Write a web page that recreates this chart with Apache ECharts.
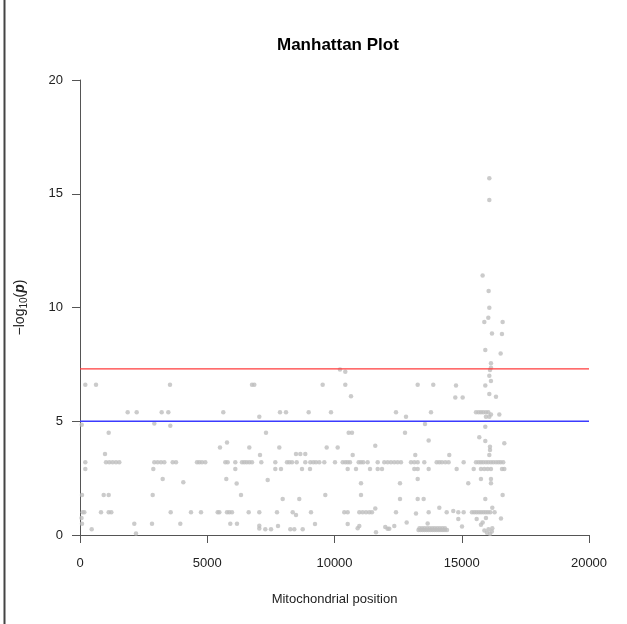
<!DOCTYPE html>
<html>
<head>
<meta charset="utf-8">
<script src="https://cdn.jsdelivr.net/npm/echarts@6/dist/echarts.min.js"></script>
<style>
html,body{margin:0;padding:0;background:#fff;}
#chart{width:627px;height:624px;}
</style>
</head>
<body>
<div id="chart"></div>
<script>
// Mitochondrial positions and -log10(p) values
const positions = [
  209,629,1873,2227,3209,3470,3536,67,2920,1127,982,
  209,1022,1151,1281,1414,1544,2920,3050,3183,3313,
  209,2880,3249,79,931,1127,2856,105,169,825,1127,1230,
  79,2133,2829,459,2200,60,
  3548,6758,6848,5630,5776,5500,6652,
  3642,3772,4597,4688,4793,4923,5709,5803,6102,6365,6455,6549,6652,6758,
  6102,4059,5748,6156,6326,
  3563,4361,4754,5410,5474,5776,5866,5972,6628,
  3941,5905,6168,
  10215,10424,9535,10424,7858,8094,8985,9862,7045,7308,
  7831,9693,10125,7072,8487,8656,8852,
  7124,7674,8133,8224,8330,8514,8852,9049,9167,9272,9403,9599,10019,10321,10424,
  7674,7897,8723,9037,
  7375,7964,8616,9638,
  7045,7740,8357,9076,10384,
  8487,9233,
  7045,7045,7281,7505,7779,8263,8420,8750,
  13268,13881,10648,12416,13791,12809,13555,
  10557,10687,12770,11602,13700,10714,13174,
  10518,10608,10950,11041,11131,11302,11697,11956,12087,12218,12349,12480,12612,13005,13135,13268,13528,14014,
  10518,10844,11394,11697,11866,13135,13268,13700,
  11041,12573,13268,11041,12573,13268,13503,
  10518,10974,11106,11237,11367,11472,11602,12416,13202,13700,
  10518,10910,10974,11630,11995,12087,12152,12349,12836,13660,
  13300,13380,13460,13540,13620,13700,13780,13860,13940,14020,14100,14180,14260,14340,14420,
  13340,13440,13540,13640,13740,13840,13940,14040,14140,14240,14340,
  16083,16083,15820,16056,16083,16043,15886,16607,16187,16580,15925,16528,
  16148,16148,16109,16083,16148,14774,15925,16083,16345,14746,15035,
  15559,15663,15755,15846,15951,16043,16148,16476,15951,16083,
  15925,15925,15689,16109,16109,16672,14510,16083,
  14118,14222,14353,14484,15075,15559,15663,15755,15846,15951,16043,16148,16240,16345,16440,16530,16630,
  14800,15469,15755,15886,16017,16148,16581,16672,
  15256,15755,16148,16148,15925,16607,
  14118,14408,14667,14864,15075,15400,15490,15580,15670,15760,15850,15940,16030,16120,16200,16290,
  14864,15010,15586,15822,15755,15951,16541,15890,15990,16050,16110,16180,16200
];
const logP = [
  6.6,6.6,5.4,5.4,5.4,5.4,6.6,4.85,4.9,4.5,3.56,
  3.2,3.2,3.2,3.2,3.2,3.2,3.2,3.2,3.2,3.2,
  2.9,2.9,2.46,1.76,1.76,1.76,1.76,1.0,1.0,1.0,1.0,1.0,
  0.5,0.5,0.5,0.25,0.07,0.75,
  4.8,6.6,6.6,5.4,4.07,3.85,3.85,
  3.2,3.2,3.2,3.2,3.2,3.2,3.2,3.2,3.2,3.2,3.2,3.2,3.2,3.2,
  2.9,2.32,2.46,2.26,1.76,
  1.0,1.0,1.0,1.0,1.0,1.0,1.0,1.0,1.0,
  0.5,0.5,0.5,
  7.28,7.18,6.6,6.6,5.4,5.4,5.4,5.4,5.2,4.5,
  3.85,3.85,3.85,3.52,3.56,3.56,3.56,
  3.2,3.2,3.2,3.2,3.2,3.2,3.2,3.2,3.2,3.2,3.2,3.2,3.2,3.2,3.2,
  2.9,2.9,2.9,2.9,
  2.42,1.58,1.58,1.76,
  1.0,1.0,1.0,1.0,1.0,
  0.88,0.48,
  0.29,0.41,0.25,0.25,0.4,0.25,0.25,0.25,
  6.6,6.6,6.1,5.4,5.4,5.2,4.88,
  4.5,4.5,4.5,3.92,4.15,3.52,3.52,
  3.2,3.2,3.2,3.2,3.2,3.2,3.2,3.2,3.2,3.2,3.2,3.2,3.2,3.2,3.2,3.2,3.2,3.2,
  2.9,2.9,2.9,2.9,2.9,2.9,2.9,2.9,
  2.27,2.27,2.46,1.76,1.58,1.58,1.58,
  1.0,1.0,1.0,1.0,1.0,1.0,1.17,1.0,0.95,1.0,
  0.48,0.3,0.4,0.12,0.35,0.28,0.28,0.4,0.55,0.51,
  0.22,0.22,0.22,0.22,0.22,0.22,0.22,0.22,0.22,0.22,0.22,0.22,0.22,0.22,0.22,
  0.3,0.3,0.3,0.3,0.3,0.3,0.3,0.3,0.3,0.3,0.3,
  15.68,14.73,11.41,10.73,9.99,9.55,9.36,9.36,8.86,8.84,8.13,7.98,
  7.55,7.35,7.25,7.0,6.77,6.57,6.57,6.2,6.08,6.04,6.04,
  5.4,5.4,5.4,5.4,5.4,5.4,5.3,5.3,5.2,5.2,
  4.76,4.13,4.3,3.88,3.74,4.03,3.52,3.52,
  3.2,3.2,3.2,3.2,3.2,3.2,3.2,3.2,3.2,3.2,3.2,3.2,3.2,3.2,3.2,3.2,3.2,
  2.9,2.9,2.9,2.9,2.9,2.9,2.9,2.9,
  2.27,2.46,2.46,2.27,1.58,1.76,
  1.2,1.0,1.05,1.0,1.0,1.0,1.0,1.0,1.0,1.0,1.0,1.0,1.0,1.0,1.2,1.0,
  0.7,0.37,0.7,0.55,0.45,0.75,0.73,0.2,0.1,0.25,0.05,0.15,0.3
];
const xTicks = [0, 5000, 10000, 15000, 20000];
const yTicks = [0, 5, 10, 15, 20];
const genomeWideLine = 7.3;
const suggestiveLine = 5;

const points = positions.map((p, i) => [p, logP[i]]);
const font = 'Liberation Sans, Arial, sans-serif';
const axisCol = '#555';

const chart = echarts.init(document.getElementById('chart'), null, {renderer: 'canvas'});
chart.setOption({
  animation: false,
  backgroundColor: '#fff',
  title: {
    text: 'Manhattan Plot', left: 272, top: 32,
    textStyle: {fontSize: 17, fontWeight: 'bold', color: '#000', fontFamily: font}
  },
  grid: {left: 80, right: 38, top: 80, bottom: 89, containLabel: false},
  xAxis: {
    type: 'value', min: xTicks[0], max: xTicks[xTicks.length - 1], interval: xTicks[1] - xTicks[0],
    name: 'Mitochondrial position', nameLocation: 'middle', nameGap: 58,
    nameTextStyle: {fontSize: 13, color: '#222', fontFamily: font},
    axisLine: {show: true, onZero: false, lineStyle: {color: axisCol, width: 1}},
    axisTick: {show: true, length: 8, lineStyle: {color: axisCol, width: 1}},
    axisLabel: {margin: 22, fontSize: 13, color: '#222', fontFamily: font, formatter: v => String(v)},
    splitLine: {show: false}
  },
  yAxis: {
    type: 'value', min: yTicks[0], max: yTicks[yTicks.length - 1], interval: yTicks[1] - yTicks[0],
    name: '{t|\u2212log}{s|10}{t|(}{i|p}{t|)}', nameLocation: 'middle', nameRotate: 90, nameGap: 51,
    nameTextStyle: {
      color: '#222', fontFamily: font,
      rich: {
        t: {fontSize: 14, color: '#222', fontFamily: font, lineHeight: 17},
        s: {fontSize: 10, color: '#222', fontFamily: font, lineHeight: 10, verticalAlign: 'bottom'},
        i: {fontSize: 14, color: '#222', fontFamily: font, fontStyle: 'italic', fontWeight: 'bold', lineHeight: 17}
      }
    },
    axisLine: {show: true, onZero: false, lineStyle: {color: axisCol, width: 1}},
    axisTick: {show: true, length: 8, lineStyle: {color: axisCol, width: 1}},
    axisLabel: {margin: 17, fontSize: 13, color: '#222', fontFamily: font},
    splitLine: {show: false}
  },
  graphic: [
    {type: 'line', shape: {x1: 4.5, y1: 0, x2: 4.5, y2: 624}, style: {stroke: '#444', lineWidth: 2}, silent: true}
  ],
  series: [
    {
      type: 'scatter', data: points, symbol: 'circle', symbolSize: 4.5,
      itemStyle: {color: '#bebebe'}, z: 2
    },
    {
      type: 'line', data: [[xTicks[0], genomeWideLine], [xTicks[xTicks.length - 1], genomeWideLine]],
      symbol: 'none', lineStyle: {color: '#ff3b3b', width: 1.3}, z: 3
    },
    {
      type: 'line', data: [[xTicks[0], suggestiveLine], [xTicks[xTicks.length - 1], suggestiveLine]],
      symbol: 'none', lineStyle: {color: '#3b3bff', width: 1.3}, z: 3
    }
  ]
});
</script>
</body>
</html>
